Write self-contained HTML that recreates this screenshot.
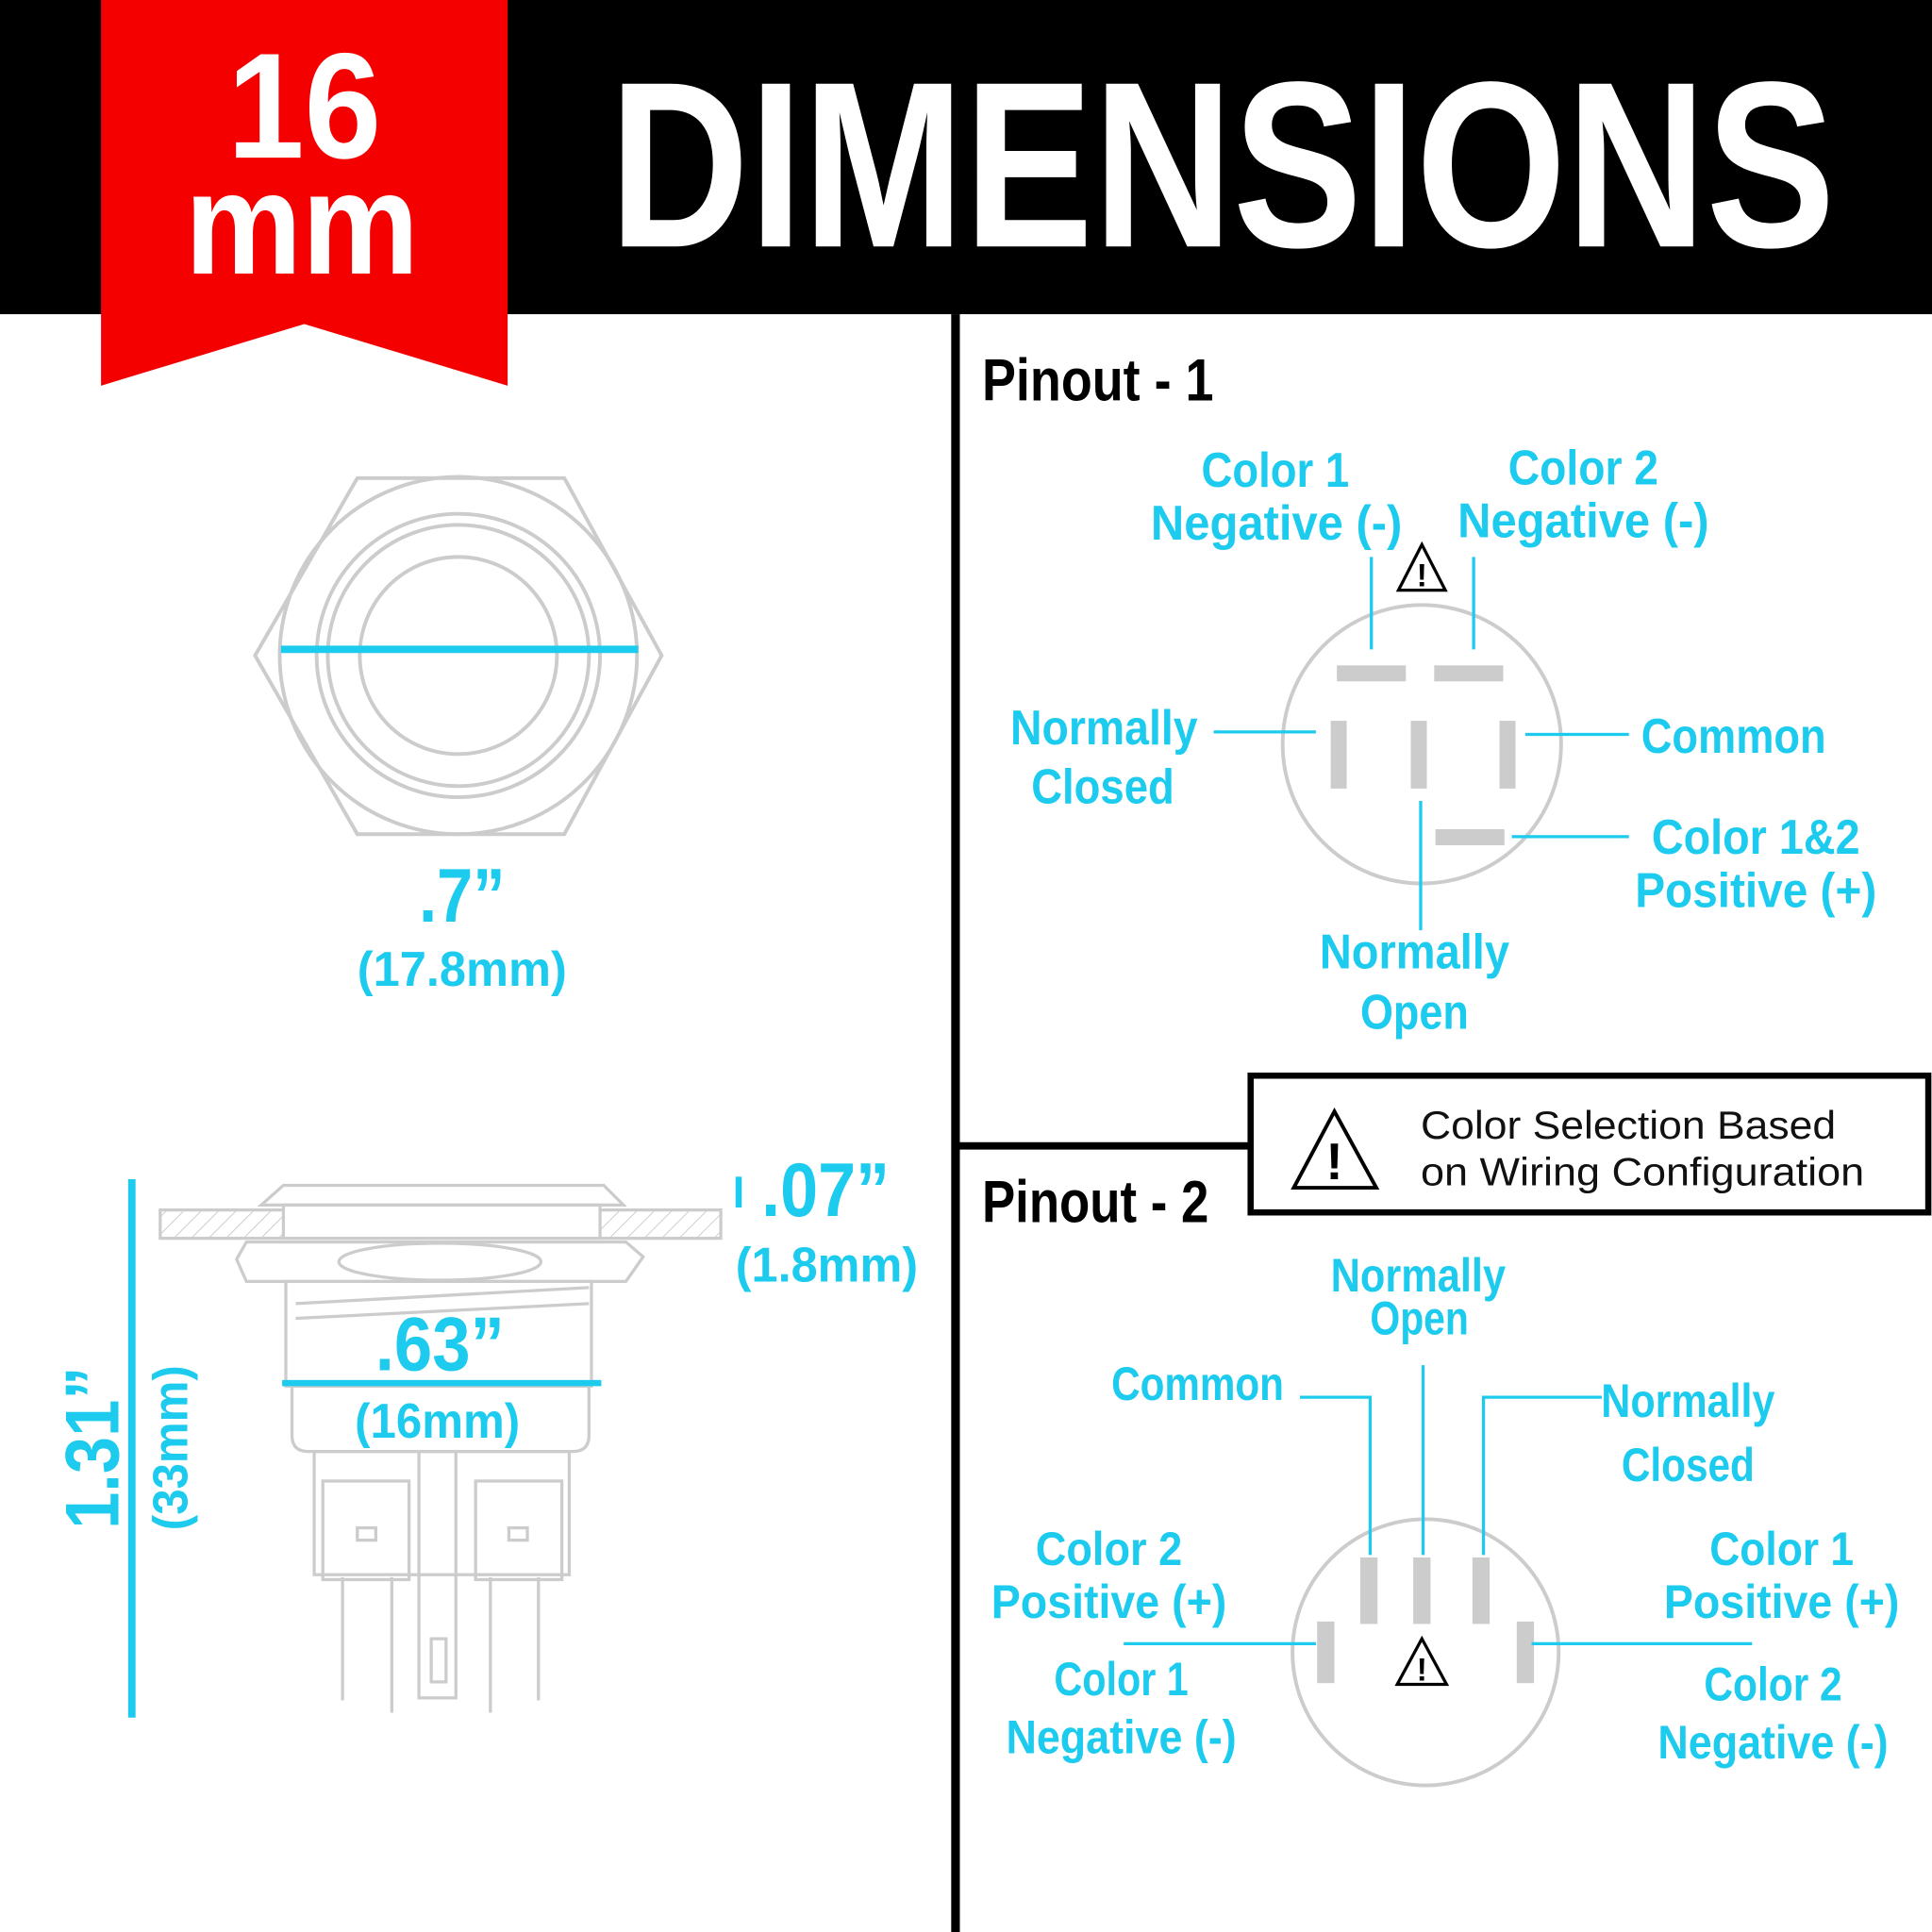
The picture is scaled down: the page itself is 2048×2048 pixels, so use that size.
<!DOCTYPE html>
<html><head><style>html,body{margin:0;padding:0;background:#fff}svg{display:block}
text{font-family:"Liberation Sans",sans-serif;font-weight:bold}</style></head>
<body>
<svg width="2048" height="2048" viewBox="0 0 1568 1568" xmlns="http://www.w3.org/2000/svg">
<defs>
<pattern id="h" width="10" height="10" patternUnits="userSpaceOnUse" patternTransform="rotate(45)"><line x1="0" y1="0" x2="0" y2="10" stroke="#ccc" stroke-width="1.5"/></pattern>
</defs>
<rect width="1568" height="1568" fill="#fff"/>
<rect x="0" y="0" width="1568" height="255" fill="#000"/>
<polygon points="82,0 412,0 412,313 247,263 82,313" fill="#f40000"/>
<text x="247" y="128" fill="#fff" font-size="122" text-anchor="middle" textLength="125" lengthAdjust="spacingAndGlyphs">16</text>
<text x="245" y="222" fill="#fff" font-size="118" text-anchor="middle" textLength="190" lengthAdjust="spacingAndGlyphs">mm</text>
<text x="992" y="200" fill="#fff" font-size="192" text-anchor="middle" textLength="995" lengthAdjust="spacingAndGlyphs">DIMENSIONS</text>
<rect x="772" y="255" width="7" height="1313" fill="#000"/>
<rect x="775" y="927" width="240" height="6" fill="#000"/>
<rect x="1015" y="873" width="550" height="111" fill="#fff" stroke="#000" stroke-width="5"/>
<g stroke="#000" stroke-width="3" fill="none"><polygon points="1083,902 1050,964 1117,964"/></g>
<text x="1083" y="957" font-size="42" text-anchor="middle" fill="#000">!</text>
<text x="1153" y="924" font-size="32" fill="#111" style="font-weight:normal" textLength="337" lengthAdjust="spacingAndGlyphs">Color Selection Based</text>
<text x="1153" y="962" font-size="32" fill="#111" style="font-weight:normal" textLength="360" lengthAdjust="spacingAndGlyphs">on Wiring Configuration</text>

<!-- top view -->
<g fill="none" stroke="#ccc" stroke-width="3">
<polygon points="207,532 290,388 458,388 537,532 458,677 290,677"/>
<circle cx="372" cy="532" r="145"/>
<circle cx="372" cy="532" r="115"/>
<circle cx="372" cy="532" r="106"/>
<circle cx="372" cy="532" r="80"/>
</g>
<rect x="228" y="524" width="290" height="6" fill="#1ccbee"/>
<g fill="#1ccbee">
<text x="375" y="748" font-size="62" text-anchor="middle" textLength="70" lengthAdjust="spacingAndGlyphs">.7”</text>
<text x="375" y="800" font-size="40" text-anchor="middle" textLength="170" lengthAdjust="spacingAndGlyphs">(17.8mm)</text>
</g>

<!-- side view -->
<g fill="none" stroke="#ccc" stroke-width="2.5">
<rect x="130" y="982" width="455" height="23" fill="url(#h)"/>
<polygon points="230,962 490,962 506,978 212,978" fill="#fff"/>
<rect x="230" y="978" width="257" height="27" fill="#fff"/>
<path d="M200,1008 L508,1008 L522,1020 L508,1040 L200,1040 L192,1022 Z" fill="#fff"/>
<ellipse cx="357" cy="1024" rx="82" ry="15"/>
<rect x="232" y="1040" width="248" height="85"/>
<line x1="240" y1="1058" x2="478" y2="1045"/>
<line x1="240" y1="1070" x2="478" y2="1058"/>
<path d="M237,1125 L478,1125 L478,1165 Q478,1178 465,1178 L250,1178 Q237,1178 237,1165 Z"/>
<rect x="255" y="1178" width="207" height="100"/>
<rect x="262" y="1202" width="70" height="80"/>
<rect x="386" y="1202" width="70" height="80"/>
<rect x="290" y="1240" width="15" height="10"/>
<rect x="413" y="1240" width="15" height="10"/>
<rect x="340" y="1178" width="30" height="200"/>
<rect x="350" y="1330" width="12" height="35"/>
<line x1="278" y1="1280" x2="278" y2="1380"/><line x1="318" y1="1280" x2="318" y2="1390"/>
<line x1="398" y1="1280" x2="398" y2="1390"/><line x1="437" y1="1280" x2="437" y2="1380"/>
</g>
<rect x="229" y="1120" width="259" height="5" fill="#1ccbee"/>
<rect x="104" y="957" width="6" height="437" fill="#1ccbee"/>
<rect x="597" y="955" width="5" height="25" fill="#1ccbee"/>
<g fill="#1ccbee">
<text x="357" y="1112" font-size="62" text-anchor="middle" textLength="105" lengthAdjust="spacingAndGlyphs">.63”</text>
<text x="355" y="1167" font-size="40" text-anchor="middle" textLength="134" lengthAdjust="spacingAndGlyphs">(16mm)</text>
<text x="670" y="987" font-size="62" text-anchor="middle" textLength="104" lengthAdjust="spacingAndGlyphs">.07”</text>
<text x="671" y="1040" font-size="40" text-anchor="middle" textLength="148" lengthAdjust="spacingAndGlyphs">(1.8mm)</text>
<text transform="translate(96,1175) rotate(-90)" font-size="62" text-anchor="middle" textLength="132" lengthAdjust="spacingAndGlyphs">1.31”</text>
<text transform="translate(152,1175) rotate(-90)" font-size="40" text-anchor="middle" textLength="134" lengthAdjust="spacingAndGlyphs">(33mm)</text>
</g>

<!-- Pinout 1 -->
<text x="797" y="325" font-size="48" fill="#000" textLength="188" lengthAdjust="spacingAndGlyphs">Pinout - 1</text>
<circle cx="1154" cy="604" r="113" fill="none" stroke="#ccc" stroke-width="3"/>
<g fill="#ccc">
<rect x="1085" y="540" width="56" height="13"/><rect x="1164" y="540" width="56" height="13"/>
<rect x="1080" y="585" width="13" height="55"/><rect x="1145" y="585" width="13" height="55"/><rect x="1217" y="585" width="13" height="55"/>
<rect x="1165" y="673" width="56" height="13"/>
</g>
<g stroke="#1ccbee" stroke-width="2.5" fill="none">
<line x1="1113" y1="452" x2="1113" y2="527"/><line x1="1196" y1="452" x2="1196" y2="527"/>
<line x1="985" y1="594" x2="1068" y2="594"/><line x1="1238" y1="596" x2="1322" y2="596"/>
<line x1="1227" y1="679" x2="1322" y2="679"/><line x1="1153" y1="650" x2="1153" y2="755"/>
</g>
<polygon points="1154,442 1135,479 1173,479" fill="none" stroke="#000" stroke-width="2.5"/>
<text x="1154" y="476" font-size="26" text-anchor="middle">!</text>
<g fill="#1ccbee" font-size="40" text-anchor="middle">
<text x="1035" y="395" textLength="120" lengthAdjust="spacingAndGlyphs">Color 1</text><text x="1036" y="438" textLength="204" lengthAdjust="spacingAndGlyphs">Negative (-)</text>
<text x="1285" y="393" textLength="122" lengthAdjust="spacingAndGlyphs">Color 2</text><text x="1285" y="436" textLength="204" lengthAdjust="spacingAndGlyphs">Negative (-)</text>
<text x="896" y="604" textLength="152" lengthAdjust="spacingAndGlyphs">Normally</text><text x="895" y="652" textLength="116" lengthAdjust="spacingAndGlyphs">Closed</text>
<text x="1407" y="611" textLength="150" lengthAdjust="spacingAndGlyphs">Common</text>
<text x="1425" y="693" textLength="169" lengthAdjust="spacingAndGlyphs">Color 1&amp;2</text><text x="1425" y="736" textLength="196" lengthAdjust="spacingAndGlyphs">Positive (+)</text>
<text x="1148" y="786" textLength="154" lengthAdjust="spacingAndGlyphs">Normally</text><text x="1148" y="835" textLength="88" lengthAdjust="spacingAndGlyphs">Open</text>
</g>

<!-- Pinout 2 -->
<text x="797" y="992" font-size="48" fill="#000" textLength="184" lengthAdjust="spacingAndGlyphs">Pinout - 2</text>
<circle cx="1157" cy="1341" r="108" fill="none" stroke="#ccc" stroke-width="3"/>
<g fill="#ccc">
<rect x="1104" y="1264" width="14" height="54"/><rect x="1147" y="1264" width="14" height="54"/><rect x="1195" y="1264" width="14" height="54"/>
<rect x="1069" y="1316" width="14" height="50"/><rect x="1231" y="1316" width="14" height="50"/>
</g>
<g stroke="#1ccbee" stroke-width="2.5" fill="none">
<polyline points="1055,1134 1112,1134 1112,1262"/>
<line x1="1155" y1="1108" x2="1155" y2="1262"/>
<polyline points="1300,1134 1204,1134 1204,1262"/>
<line x1="912" y1="1334" x2="1068" y2="1334"/>
<line x1="1243" y1="1334" x2="1422" y2="1334"/>
</g>
<polygon points="1154,1330 1134,1367 1174,1367" fill="none" stroke="#000" stroke-width="2.5"/>
<text x="1154" y="1364" font-size="26" text-anchor="middle">!</text>
<g fill="#1ccbee" font-size="38" text-anchor="middle">
<text x="1151" y="1048" textLength="142" lengthAdjust="spacingAndGlyphs">Normally</text><text x="1152" y="1083" textLength="80" lengthAdjust="spacingAndGlyphs">Open</text>
<text x="972" y="1136" textLength="140" lengthAdjust="spacingAndGlyphs">Common</text>
<text x="1370" y="1150" textLength="141" lengthAdjust="spacingAndGlyphs">Normally</text><text x="1370" y="1202" textLength="108" lengthAdjust="spacingAndGlyphs">Closed</text>
<text x="900" y="1270" textLength="119" lengthAdjust="spacingAndGlyphs">Color 2</text><text x="900" y="1313" textLength="191" lengthAdjust="spacingAndGlyphs">Positive (+)</text>
<text x="910" y="1376" textLength="109" lengthAdjust="spacingAndGlyphs">Color 1</text><text x="910" y="1423" textLength="187" lengthAdjust="spacingAndGlyphs">Negative (-)</text>
<text x="1446" y="1270" textLength="117" lengthAdjust="spacingAndGlyphs">Color 1</text><text x="1446" y="1313" textLength="191" lengthAdjust="spacingAndGlyphs">Positive (+)</text>
<text x="1439" y="1380" textLength="112" lengthAdjust="spacingAndGlyphs">Color 2</text><text x="1439" y="1427" textLength="187" lengthAdjust="spacingAndGlyphs">Negative (-)</text>
</g>
</svg>
</body></html>
